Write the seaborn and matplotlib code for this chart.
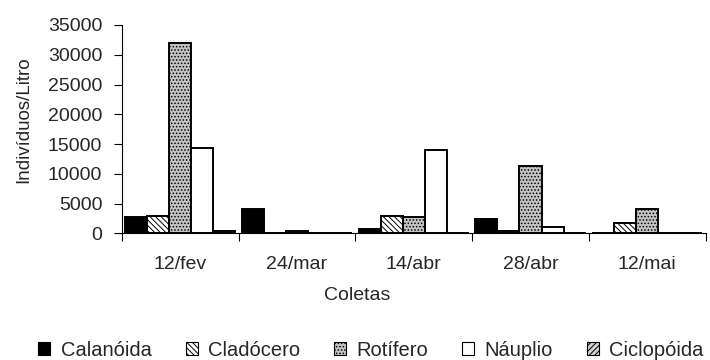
import numpy as np
import pandas as pd
import matplotlib
matplotlib.use("Agg")
import matplotlib.pyplot as plt
from matplotlib.patches import Patch
from matplotlib.ticker import FixedLocator
import seaborn as sns

coletas = ["12/fev", "24/mar", "14/abr", "28/abr", "12/mai"]
grupos = ["Calanóida", "Cladócero", "Rotífero", "Náuplio", "Ciclopóida"]

calanoida = [2700, 4100, 800, 2500, 0]
cladocero = [3000, 0, 3000, 450, 1750]
rotifero = [32000, 400, 2700, 11400, 4100]
nauplio = [14400, 0, 14000, 1050, 0]
ciclopoida = [400, 0, 0, 0, 0]

series = [calanoida, cladocero, rotifero, nauplio, ciclopoida]
df = pd.DataFrame(
    [(c, g, v) for g, vals in zip(grupos, series) for c, v in zip(coletas, vals)],
    columns=["Coleta", "Grupo", "Valor"],
)

sns.set_theme(style="white")
plt.rcParams["font.family"] = ["Liberation Sans", "DejaVu Sans"]
plt.rcParams["hatch.linewidth"] = 0.7

FS = 14

# fill / hatch style for each group
estilos = {
    "Calanóida": dict(facecolor="black", hatch=None),
    "Cladócero": dict(facecolor="white", hatch="\\\\\\\\\\\\"),
    "Rotífero": dict(facecolor="#c4c4c4", hatch="....."),
    "Náuplio": dict(facecolor="white", hatch=None),
    "Ciclopóida": dict(facecolor="#d0d0d0", hatch="//////"),
}

fig = plt.figure(figsize=(7.1, 3.6), dpi=100)
ax = fig.add_axes([0.1714, 0.3514, 0.8226, 0.5792])

sns.barplot(data=df, x="Coleta", y="Valor", hue="Grupo", order=coletas,
            hue_order=grupos, width=0.944, ax=ax, legend=False,
            edgecolor="black", linewidth=1.4, errorbar=None)

for cont, g in zip(ax.containers, grupos):
    st = estilos[g]
    for bar in cont:
        bar.set_facecolor(st["facecolor"])
        bar.set_edgecolor("black")
        if st["hatch"]:
            bar.set_hatch(st["hatch"])

ax.set_ylim(0, 35000)
ax.set_xlim(-0.5, 4.5)
ax.set_yticks(np.arange(0, 35001, 5000))
ax.tick_params(axis="y", which="major", length=6, width=0.8, direction="out",
               labelsize=FS, color="black", pad=8, left=True)
ax.tick_params(axis="x", which="major", length=0, labelsize=FS, pad=16)
ax.xaxis.set_minor_locator(FixedLocator(np.arange(-0.5, 4.6, 1.0)))
ax.tick_params(axis="x", which="minor", length=6, width=0.8, direction="out",
               color="black", bottom=True)

for s in ["top", "right"]:
    ax.spines[s].set_visible(False)
for s in ["left", "bottom"]:
    ax.spines[s].set_color("black")
    ax.spines[s].set_linewidth(0.8)

ax.set_ylabel("Indivíduos/Litro", fontsize=13.5)
ax.yaxis.set_label_coords(-(121.7 - 32) / 584.0, 0.544)
ax.set_xlabel("Coletas", fontsize=FS)
ax.xaxis.set_label_coords((357 - 121.7) / 584.0, -0.255)
ax.grid(False)

handles = []
for g in grupos:
    st = estilos[g]
    handles.append(Patch(facecolor=st["facecolor"], edgecolor="black",
                         hatch=st["hatch"], linewidth=0.8, label=g))
fig.legend(handles=handles, loc="center", ncol=5, frameon=False,
           bbox_to_anchor=(371 / 710, 1 - 350 / 360), fontsize=14.5,
           handlelength=0.6, handleheight=0.6, handletextpad=0.5,
           columnspacing=1.7, borderpad=0.1)

fig.savefig("out.png", dpi=100)
